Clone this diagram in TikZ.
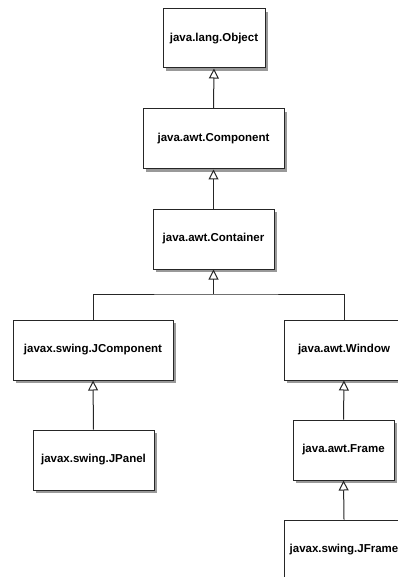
\documentclass[tikz,border=0pt]{standalone}
\usepackage{fontspec}
\setmainfont{Liberation Sans}
\usetikzlibrary{arrows.meta,shadows}
\begin{document}
\begin{tikzpicture}[x=1pt,y=-1pt,
  cls/.style={draw=black!85, line width=1pt, fill=white, inner sep=0pt,
    font=\fontsize{11.5}{13}\selectfont\bfseries,
    drop shadow={shadow xshift=3pt, shadow yshift=-3pt, fill=black!40, opacity=1}},
  inh/.style={draw=black!85, line width=1pt, -{Triangle[open, width=10pt, length=10pt, line width=1pt]}},
  conn/.style={draw=black!85, line width=1pt}]
\clip (0,0) rectangle (398,577);
\fill[white] (0,0) rectangle (398,577);
\node[cls, minimum width=102, minimum height=59] (obj) at (214,38.5) {java.lang.Object};
\node[cls, minimum width=141, minimum height=60] (comp) at (213.5,139) {java.awt.Component};
\node[cls, minimum width=121, minimum height=60] (cont) at (213.5,239) {java.awt.Container};
\node[cls, minimum width=160, minimum height=60] (jcomp) at (93,350) {javax.swing.JComponent};
\node[cls, minimum width=120, minimum height=60] (win) at (344,350) {java.awt.Window};
\node[cls, minimum width=121, minimum height=60] (jpanel) at (93.5,460) {javax.swing.JPanel};
\node[cls, minimum width=101, minimum height=60] (frame) at (343.5,450) {java.awt.Frame};
\node[cls, minimum width=120, minimum height=60] (jframe) at (344,550) {javax.swing.JFrame};
\coordinate (fork) at (213.5,294);
\draw[inh] (comp.north) -- (obj.south);
\draw[inh] (cont.north) -- (comp.south);
\draw[inh] (fork) -- (cont.south);
\draw[conn] (jcomp.north) |- (fork) -| (win.north);
\draw[inh] (jpanel.north) -- (jcomp.south);
\draw[inh] (frame.north) -- (win.south);
\draw[inh] (jframe.north) -- (frame.south);
\end{tikzpicture}
\end{document}
